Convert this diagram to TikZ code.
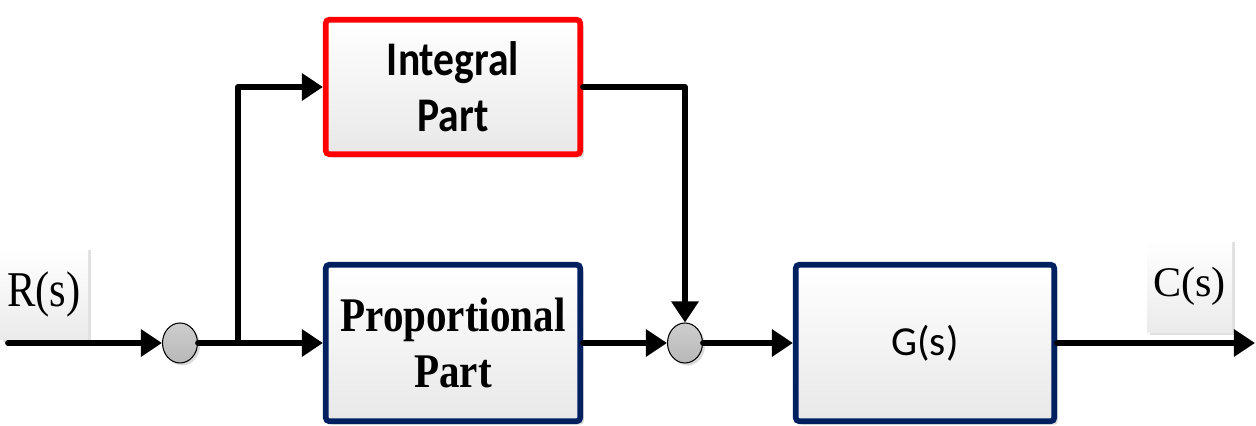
\documentclass[tikz,border=0pt]{standalone}
\usepackage{fontspec}
\setmainfont{Liberation Serif}
\newfontfamily\serifnarrow[FakeStretch=0.85]{Liberation Serif}
\newfontfamily\calnarrow[FakeStretch=0.86]{Carlito}
\newfontfamily\calfont{Carlito}
\usepackage{tikz}
\usetikzlibrary{arrows.meta}
\usetikzlibrary{shapes.geometric}
\usetikzlibrary{shadows}

\definecolor{navy}{RGB}{0,32,96}
\definecolor{sumgray}{RGB}{184,184,184}

\begin{document}
\begin{tikzpicture}[
    sig/.style={-{Triangle[length=12pt, width=15pt]}, line width=3.3pt, line join=round, line cap=round},
    block/.style={rectangle, rounded corners=2pt, line width=3.2pt, top color=white, bottom color=black!9,
        drop shadow={shadow xshift=0.07cm, shadow yshift=-0.07cm, fill=black!14, opacity=1}, align=center},
    ipart/.style={block, draw=red, minimum width=5.09cm, minimum height=2.69cm, font=\calnarrow\bfseries\fontsize{27.5}{32}\selectfont},
    ppart/.style={block, draw=navy, minimum width=5.09cm, minimum height=3.13cm, font=\serifnarrow\bfseries\fontsize{27.5}{32}\selectfont},
    plant/.style={block, draw=navy, minimum width=5.17cm, minimum height=3.13cm, font=\calfont\fontsize{23.5}{28}\selectfont},
    junction/.style={ellipse, draw=black, line width=0.6pt, minimum width=0.7cm, minimum height=0.8cm, inner sep=0pt,
        top color=sumgray!70, bottom color=sumgray,
        drop shadow={shadow xshift=0.05cm, shadow yshift=-0.05cm, fill=black!14, opacity=1}},
    signame/.style={rectangle, top color=white, bottom color=black!8, inner sep=0pt,
        drop shadow={shadow xshift=0.05cm, shadow yshift=-0.05cm, fill=black!12, opacity=1}}
]
\useasboundingbox (0,0) rectangle (25.12,8.52);

% --- Signal names ---
\node[signame, minimum width=1.76cm, minimum height=1.84cm, font=\serifnarrow\fontsize{28.5}{32}\selectfont] (rname) at (0.88, 2.64) {R(s)};
\node[signame, minimum width=1.7cm, minimum height=1.86cm, font=\fontsize{24}{28}\selectfont] (cname) at (23.79, 2.79) {C(s)};

% --- Blocks ---
\node[ipart] (integ) at (9.06, 6.78) {Integral\\Part};
\node[ppart] (prop) at (9.06, 1.66) {Proportional\\Part};
\node[plant] (gbox) at (18.5, 1.66) {G(s)};

% --- Summing points ---
\node[junction] (sum1) at (3.6, 1.66) {};
\node[junction] (sum2) at (13.7, 1.66) {};

% Free ends of the main line
\coordinate (in) at (0.16, 1.66);
\coordinate (branch) at (4.76, 1.66);
\coordinate (out) at (25.1, 1.66);

% --- Connections ---
\draw[sig] (in) -- (sum1);
\draw[sig] (sum1) -- (prop);
\draw[sig] (branch) |- (integ);
\draw[sig] (integ) -| (sum2);
\draw[sig] (prop) -- (sum2);
\draw[sig] (sum2) -- (gbox);
\draw[sig] (gbox) -- (out);

\end{tikzpicture}
\end{document}
